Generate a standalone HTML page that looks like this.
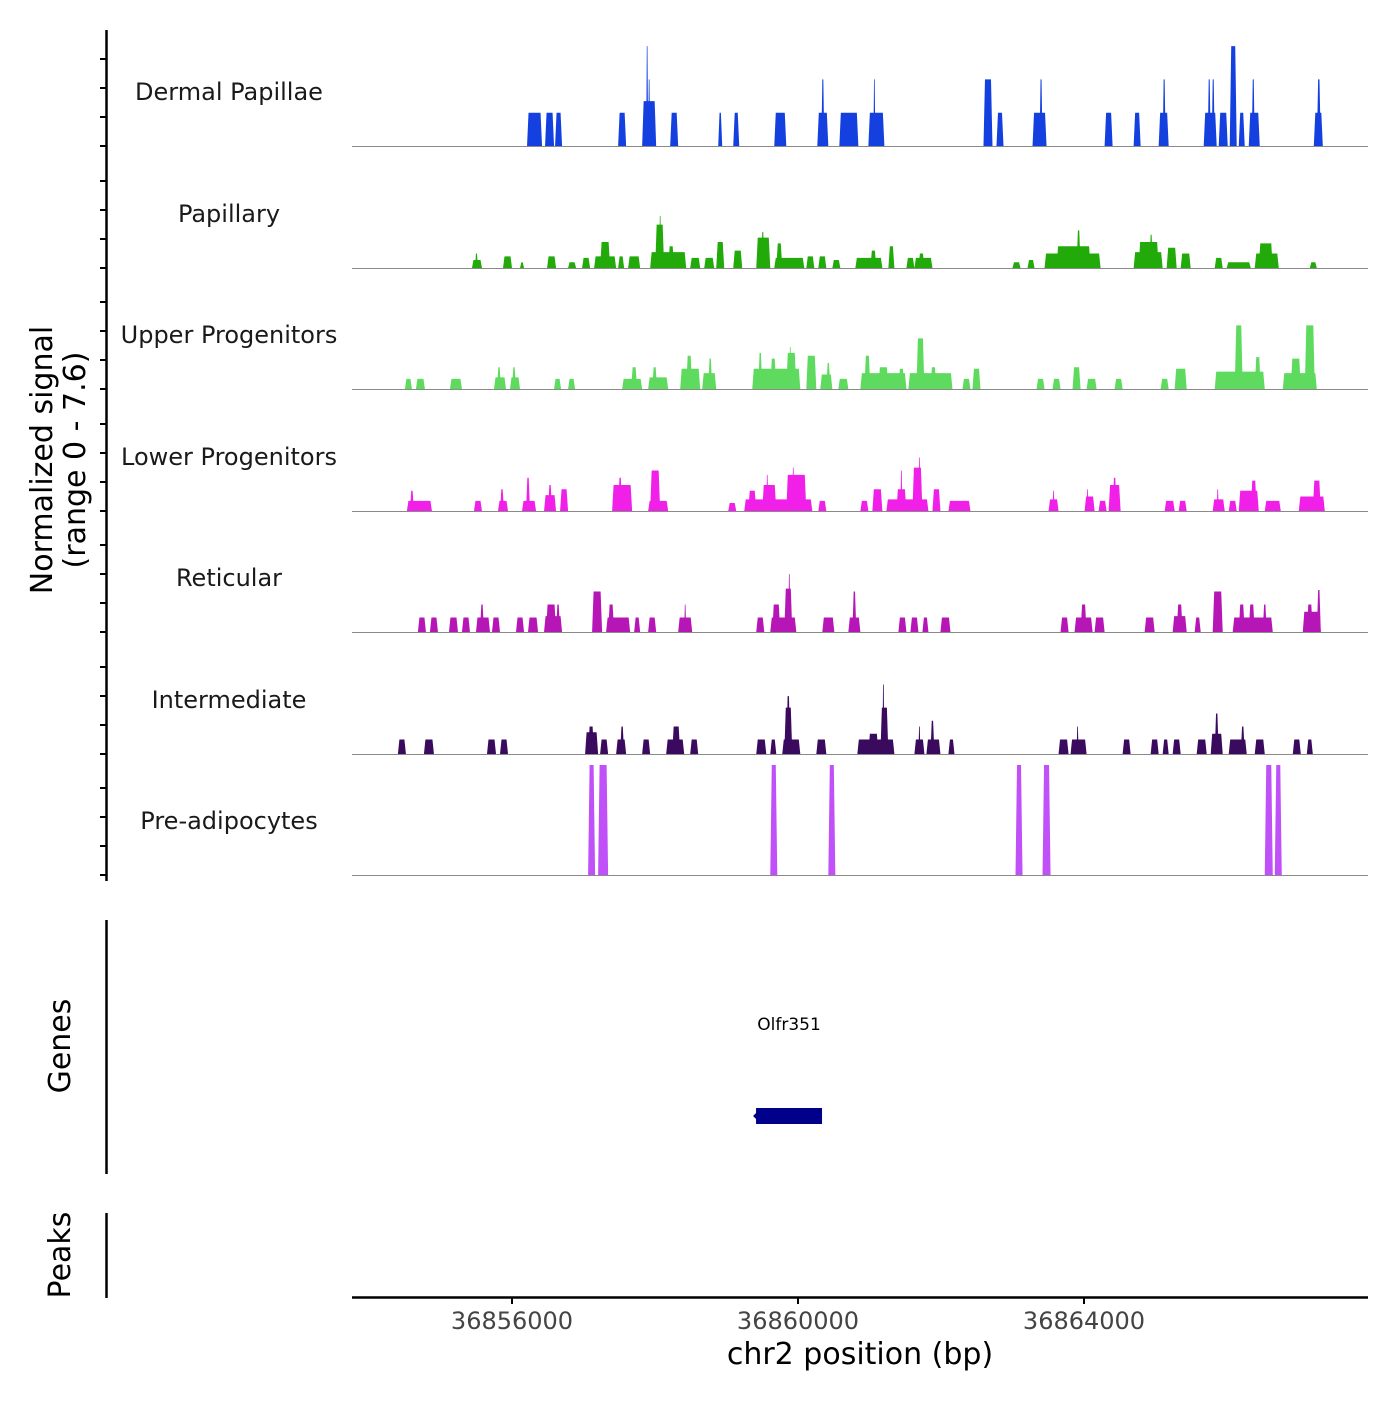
<!DOCTYPE html>
<html><head><meta charset="utf-8"><style>
html,body{margin:0;padding:0;background:#fff;}
svg text{font-family:"DejaVu Sans","Liberation Sans",sans-serif;}
</style></head><body>
<svg id="chart" width="1400" height="1400" viewBox="0 0 1400 1400" xmlns="http://www.w3.org/2000/svg">
<g id="tracks"></g>
<g id="axes"></g>
</svg>
<script>
const trackNames = ["Dermal Papillae","Papillary","Upper Progenitors","Lower Progenitors","Reticular","Intermediate","Pre-adipocytes"];
const trackColors = ["#1540E0","#22AA0A","#5EDB5E","#F020E8","#B516B5","#3A0A5E","#C050F8"];
const xTicks = [36856000, 36860000, 36864000];
const xTickLabels = ["36856000","36860000","36864000"];
const yRangeMax = 7.6;
const xDomain = [36853762, 36867972];

// segments: [startBp, endBp, signal]
const dermalPapillae = [
[36856210,36856420,2.3],[36856462,36856588,2.3],[36856602,36856700,2.3],[36857484,36857596,2.3],
[36857820,36858016,3.1],[36857876,36857904,6.9],[36857904,36857932,4.6],[36858212,36858324,2.3],
[36858884,36858940,2.3],[36859094,36859178,2.3],[36859668,36859836,2.3],[36860270,36860424,2.3],
[36860326,36860368,4.6],[36860578,36860844,2.3],[36860984,36861208,2.3],[36861054,36861082,4.6],
[36862594,36862720,4.6],[36862776,36862874,2.3],[36863280,36863476,2.3],[36863378,36863420,4.6],
[36864288,36864400,2.3],[36864694,36864792,2.3],[36865044,36865184,2.3],[36865100,36865142,4.6],
[36865674,36865856,2.3],[36865730,36865772,4.6],[36865786,36865828,4.6],[36865884,36866010,2.3],
[36866038,36866136,6.9],[36866164,36866248,2.3],[36866304,36866458,2.3],[36866346,36866388,4.6],
[36867214,36867340,2.3],[36867256,36867312,4.6]];
const papillary = [
[36855440,36855580,0.55],[36855482,36855524,1.0],[36855874,36856000,0.8],[36856112,36856168,0.4],
[36856490,36856616,0.8],[36856784,36856896,0.4],[36856980,36857092,0.7],[36857148,36857456,0.8],
[36857232,36857372,1.8],[36857484,36857568,0.8],[36857624,36857792,0.8],[36857932,36858436,1.1],
[36858002,36858128,3.0],[36858058,36858086,3.6],[36858184,36858268,1.5],[36858492,36858632,0.7],
[36858688,36858828,0.7],[36858856,36858968,1.8],[36859094,36859220,1.2],[36859416,36859612,2.1],
[36859486,36859528,2.5],[36859668,36860088,0.7],[36859696,36859780,1.7],[36860116,36860228,0.8],
[36860284,36860396,0.8],[36860480,36860592,0.55],[36860802,36861180,0.7],[36861012,36861096,1.2],
[36861264,36861348,1.5],[36861516,36861628,0.7],[36861628,36861880,0.7],[36861684,36861768,1.0],
[36863000,36863112,0.4],[36863210,36863308,0.55],[36863448,36864232,1.0],[36863616,36864092,1.5],
[36863896,36863952,2.6],[36864694,36865100,1.1],[36864764,36865044,1.8],[36864918,36864960,2.3],
[36865156,36865296,1.4],[36865352,36865492,1.0],[36865828,36865940,0.7],[36865996,36866332,0.4],
[36866388,36866724,1.0],[36866444,36866640,1.7],[36867158,36867256,0.4]];
const upperProgenitors = [
[36854502,36854600,0.7],[36854656,36854782,0.7],[36855132,36855300,0.7],[36855748,36855916,0.8],
[36855790,36855846,1.5],[36855972,36856112,0.8],[36856000,36856056,1.5],[36856588,36856686,0.7],
[36856784,36856882,0.7],[36857540,36857820,0.7],[36857666,36857750,1.5],[36857904,36858184,0.8],
[36857960,36858030,1.5],[36858352,36858632,1.4],[36858436,36858520,2.3],[36858660,36858856,1.1],
[36858744,36858800,2.1],[36859360,36860032,1.4],[36859444,36859500,2.5],[36859612,36859696,2.1],
[36859836,36859976,2.5],[36859878,36859906,2.9],[36860116,36860256,2.3],[36860312,36860480,1.0],
[36860396,36860452,1.8],[36860564,36860704,0.7],[36860872,36861516,1.1],[36860928,36861012,2.3],
[36861124,36861264,1.5],[36861404,36861488,1.4],[36861544,36862160,1.1],[36861656,36861768,3.5],
[36861852,36861936,1.5],[36862300,36862412,0.7],[36862440,36862552,1.4],[36863336,36863448,0.7],
[36863560,36863672,0.7],[36863840,36863952,1.5],[36864036,36864176,0.7],[36864428,36864540,0.7],
[36865072,36865184,0.7],[36865268,36865436,1.4],[36865828,36866528,1.2],[36866108,36866220,4.4],
[36866388,36866472,2.2],[36866780,36867256,1.1],[36866892,36867032,2.1],[36867088,36867228,4.4]];
const lowerProgenitors = [
[36854530,36854880,0.7],[36854572,36854628,1.4],[36855468,36855580,0.7],[36855804,36855944,0.7],
[36855832,36855888,1.5],[36856140,36856336,0.7],[36856196,36856252,2.3],[36856448,36856616,1.1],
[36856504,36856560,1.8],[36856672,36856784,1.5],[36857400,36857680,1.8],[36857484,36857540,2.3],
[36857904,36858184,0.7],[36857932,36858072,2.8],[36859024,36859136,0.55],[36859248,36860200,0.8],
[36859304,36859416,1.4],[36859500,36859696,1.8],[36859556,36859584,2.5],[36859836,36860116,2.5],
[36859920,36859948,3.0],[36860284,36860396,0.7],[36860872,36860984,0.7],[36861040,36861180,1.5],
[36861236,36861824,0.8],[36861376,36861516,1.5],[36861432,36861460,2.8],[36861600,36861740,3.0],
[36861684,36861712,3.7],[36861880,36861992,1.5],[36862104,36862356,0.7],[36862300,36862412,0.7],
[36863504,36863644,0.8],[36863560,36863588,1.4],[36864008,36864148,1.0],[36864036,36864064,1.5],
[36864204,36864316,0.7],[36864344,36864512,1.8],[36864400,36864456,2.3],[36865128,36865268,0.7],
[36865324,36865436,0.7],[36865800,36865968,0.8],[36865856,36865884,1.5],[36866024,36866136,0.7],
[36866164,36866444,1.4],[36866332,36866416,2.1],[36866528,36866752,0.7],[36867004,36867368,1.0],
[36867200,36867312,2.1]];
const reticular = [
[36854684,36854796,1.0],[36854852,36854964,1.0],[36855118,36855244,1.0],[36855300,36855412,1.0],
[36855496,36855692,1.0],[36855552,36855608,1.9],[36855720,36855832,1.0],[36856056,36856168,1.0],
[36856224,36856364,1.0],[36856448,36856700,1.1],[36856476,36856616,1.9],[36856616,36856672,1.9],
[36857120,36857260,2.8],[36857316,36857652,1.0],[36857344,36857428,1.9],[36857708,36857792,1.0],
[36857904,36858016,1.0],[36858324,36858520,1.0],[36858408,36858436,1.9],[36859416,36859528,1.0],
[36859612,36859976,1.0],[36859640,36859752,1.9],[36859808,36859920,3.0],[36859864,36859892,4.0],
[36860340,36860508,1.0],[36860704,36860872,1.0],[36860760,36860816,2.8],[36861404,36861516,1.0],
[36861572,36861684,1.0],[36861740,36861824,1.0],[36861992,36862132,1.0],[36863672,36863784,1.0],
[36863868,36864120,1.0],[36863952,36864036,1.9],[36864148,36864288,1.0],[36864848,36864988,1.0],
[36865240,36865436,1.1],[36865296,36865380,1.9],[36865548,36865632,1.0],[36865800,36865940,2.8],
[36866080,36866640,1.0],[36866164,36866248,1.9],[36866304,36866388,1.9],[36866500,36866556,1.9],
[36867060,36867312,1.4],[36867116,36867200,1.9],[36867256,36867312,2.9]];
const intermediate = [
[36854404,36854516,1.0],[36854768,36854908,1.0],[36855650,36855776,1.0],[36855832,36855944,1.0],
[36857022,36857204,1.5],[36857064,36857148,1.9],[36857232,36857344,1.0],[36857456,36857596,1.0],
[36857512,36857568,1.9],[36857820,36857932,1.0],[36858156,36858408,1.0],[36858240,36858352,1.9],
[36858492,36858604,1.0],[36859416,36859556,1.0],[36859612,36859696,1.0],[36859780,36860032,1.0],
[36859808,36859920,3.2],[36859836,36859892,4.0],[36860256,36860396,1.0],[36860830,36861348,1.0],
[36860984,36861124,1.4],[36861152,36861264,3.2],[36861180,36861208,4.8],[36861628,36861768,1.0],
[36861684,36861712,1.9],[36861796,36861992,1.0],[36861852,36861908,2.3],[36862104,36862188,1.0],
[36863644,36863784,1.0],[36863812,36864036,1.0],[36863896,36863924,1.9],[36864540,36864652,1.0],
[36864932,36865044,1.0],[36865100,36865184,1.0],[36865240,36865352,1.0],[36865576,36865716,1.0],
[36865772,36865940,1.4],[36865828,36865884,2.8],[36866024,36866276,1.0],[36866192,36866248,1.9],
[36866388,36866528,1.0],[36866920,36867032,1.0],[36867116,36867200,1.0]];
const preAdipocytes = [
[36857064,36857162,7.6],[36857204,36857344,7.6],[36859612,36859710,7.6],[36860424,36860522,7.6],
[36863042,36863140,7.6],[36863420,36863532,7.6],[36866528,36866640,7.6],[36866668,36866766,7.6]];
const trackData = [dermalPapillae,papillary,upperProgenitors,lowerProgenitors,reticular,intermediate,preAdipocytes];
const geneName = "Olfr351";
const geneStart = 36859413, geneEnd = 36860336;

const NS = "http://www.w3.org/2000/svg";
const PX0 = 352, PX1 = 1368;
const baselines = [146,268,389,511,632,754,875];
const trackH = 110;
function xScale(bp){ return PX0 + (bp - xDomain[0]) / (xDomain[1]-xDomain[0]) * (PX1-PX0); }
function yScale(v, t){ return baselines[t] - v / yRangeMax * trackH; }
function mk(tag, attrs, parent){ const e = document.createElementNS(NS, tag); for (const k in attrs) e.setAttribute(k, attrs[k]); parent.appendChild(e); return e; }

const tracksG = document.getElementById('tracks');
const axesG = document.getElementById('axes');

trackData.forEach((segs, t) => {
  const g = mk('g', {}, tracksG);
  
  
  segs.forEach(s => {
    const x0 = xScale(s[0]), x1 = xScale(s[1]);
    const yb = baselines[t], yt = yScale(s[2], t);
    const sl = Math.min(1.5, (x1-x0)/3);
    const p = mk('polygon', {points: `${x0},${yb} ${x0+sl},${yt} ${x1-sl},${yt} ${x1},${yb}`, fill: trackColors[t]}, g);
    
    
  });
  const bl = mk('line', {x1: PX0, x2: PX1, y1: baselines[t]+0.5, y2: baselines[t]+0.5, stroke: '#8a8a8a', 'stroke-width': 1}, g);
  
  
  const lb = mk('text', {x: 229, y: baselines[t]-46, 'text-anchor': 'middle', 'font-size': 24, fill: '#1a1a1a'}, g);
  lb.textContent = trackNames[t];
  
  
  for (let k = 0; k < 4; k++) {
    const ty = baselines[t] - k*29;
    const tk = mk('line', {x1: 100, x2: 106, y1: ty, y2: ty, stroke: '#000', 'stroke-width': 2}, axesG);
    
    
  }
});

// left axis
let e = mk('line', {x1: 106.5, x2: 106.5, y1: 30, y2: 881, stroke: '#000', 'stroke-width': 2.5}, axesG);


e = mk('text', {transform: 'translate(52,460) rotate(-90)', 'text-anchor': 'middle', 'font-size': 30, fill: '#000'}, axesG);
e.textContent = 'Normalized signal';


e = mk('text', {transform: 'translate(85,460) rotate(-90)', 'text-anchor': 'middle', 'font-size': 30, fill: '#000'}, axesG);
e.textContent = '(range 0 - 7.6)';



// genes panel
e = mk('line', {x1: 106.5, x2: 106.5, y1: 920, y2: 1174, stroke: '#000', 'stroke-width': 2.5}, axesG);


e = mk('text', {transform: 'translate(70,1046) rotate(-90)', 'text-anchor': 'middle', 'font-size': 30, fill: '#000'}, axesG);
e.textContent = 'Genes';


const gx0 = xScale(geneStart), gx1 = xScale(geneEnd);
e = mk('rect', {x: gx0, y: 1108, width: gx1-gx0, height: 16, fill: '#00008B'}, axesG);


e = mk('polygon', {points: `${gx0-3},1116 ${gx0+2},1111 ${gx0+2},1121`, fill: '#00008B'}, axesG);


e = mk('text', {x: (gx0+gx1)/2, y: 1030, 'text-anchor': 'middle', 'font-size': 17, fill: '#000'}, axesG);
e.textContent = geneName;



// peaks panel
e = mk('line', {x1: 106.5, x2: 106.5, y1: 1213, y2: 1298, stroke: '#000', 'stroke-width': 2.5}, axesG);


e = mk('text', {transform: 'translate(70,1255) rotate(-90)', 'text-anchor': 'middle', 'font-size': 30, fill: '#000'}, axesG);
e.textContent = 'Peaks';



// x axis
e = mk('line', {x1: PX0, x2: PX1, y1: 1297.5, y2: 1297.5, stroke: '#000', 'stroke-width': 2.5}, axesG);


xTicks.forEach((v, i) => {
  const x = xScale(v);
  const tk = mk('line', {x1: x, x2: x, y1: 1297, y2: 1304, stroke: '#000', 'stroke-width': 2}, axesG);
  
  
  const tl = mk('text', {x: x, y: 1329, 'text-anchor': 'middle', 'font-size': 24, fill: '#444'}, axesG);
  tl.textContent = xTickLabels[i];
  
  
});
e = mk('text', {x: 860, y: 1364, 'text-anchor': 'middle', 'font-size': 30, fill: '#000'}, axesG);
e.textContent = 'chr2 position (bp)';


</script>
</body></html>
